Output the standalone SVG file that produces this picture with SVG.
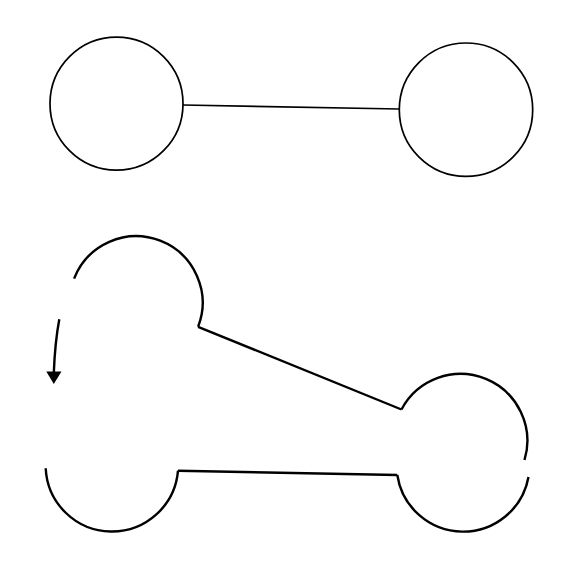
<svg xmlns="http://www.w3.org/2000/svg" width="582" height="586" viewBox="0 0 582 586">
<style>
.thin{fill:none;stroke:#000;stroke-width:1.7}
.thick{fill:none;stroke:#000;stroke-width:2.4;stroke-linejoin:miter}
</style>
<rect width="582" height="586" fill="#fff"/>
<g id="node-top-left"><circle class="thin" cx="116.5" cy="103.7" r="66.5"/></g>
<g id="node-top-right"><circle class="thin" cx="466" cy="109.7" r="66.7"/></g>
<g id="node-bottom-upper-left"><path class="thick" d="M74.1,278.6 A66.5,66.5 0 0 1 198.1,326.8"/></g>
<g id="node-bottom-upper-right"><path class="thick" d="M401.5,409.5 A66.8,66.8 0 0 1 524.5,460"/></g>
<g id="node-bottom-lower-left"><path class="thick" d="M45.7,468.3 A66.3,66.3 0 0 0 178,470.7"/></g>
<g id="node-bottom-lower-right"><path class="thick" d="M528.5,477 A66.5,66.5 0 0 1 397.3,475"/></g>
<g id="connectors">
<line class="thin" x1="183" y1="105" x2="399.3" y2="109"/>
<line class="thick" x1="198.1" y1="326.8" x2="401.5" y2="409.5"/>
<line class="thick" x1="178" y1="470.7" x2="397.3" y2="475"/>
<path class="thick" d="M59.3,319.3 Q55,342 53.8,373"/>
<polygon points="46.3,371.5 61.5,371.5 53.8,384" fill="#000"/>
</g>
</svg>
